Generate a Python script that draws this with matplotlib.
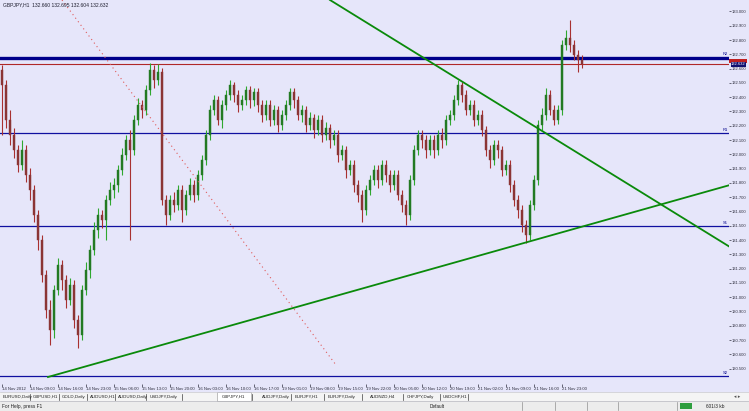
import matplotlib
matplotlib.use("Agg")
import matplotlib.pyplot as plt
import matplotlib.patches as mpatches
import numpy as np

plt.rcParams["font.family"] = ["Liberation Sans", "DejaVu Sans"]

# ---------------- data (GBPJPY, H1) ----------------
opens = [
    132.590, 132.485, 132.240, 132.135, 132.030, 131.925, 132.030, 131.855, 131.750, 131.575,
    131.400, 131.155, 130.910, 130.770, 131.050, 131.225, 131.120, 130.980, 131.085, 130.840,
    130.735, 131.050, 131.190, 131.330, 131.470, 131.575, 131.540, 131.680, 131.750, 131.785,
    131.890, 131.995, 132.100, 132.030, 132.240, 132.345, 132.310, 132.450, 132.590, 132.520,
    132.576, 131.680, 131.575, 131.680, 131.645, 131.750, 131.610, 131.715, 131.785, 131.715,
    131.855, 131.960, 132.135, 132.310, 132.380, 132.240, 132.345, 132.415, 132.485, 132.415,
    132.345, 132.380, 132.450, 132.380, 132.436, 132.345, 132.275, 132.345, 132.240, 132.310,
    132.205, 132.275, 132.345, 132.436, 132.380, 132.275, 132.310, 132.205, 132.254, 132.170,
    132.240, 132.135, 132.184, 132.100, 132.135, 131.995, 132.030, 131.890, 131.925, 131.785,
    131.715, 131.610, 131.750, 131.820, 131.890, 131.820, 131.925, 131.855, 131.785, 131.855,
    131.715, 131.645, 131.575, 131.820, 132.030, 132.135, 132.100, 132.030, 132.100, 132.030,
    132.135, 132.100, 132.240, 132.275, 132.380, 132.485, 132.415, 132.310, 132.345, 132.240,
    132.275, 132.170, 132.030, 131.960, 132.065, 132.030, 131.890, 131.925, 131.785, 131.680,
    131.610, 131.505, 131.435, 131.645, 131.820, 132.205, 132.275, 132.415, 132.310, 132.240,
    132.310, 132.765, 132.814, 132.765, 132.695, 132.660]
highs = [
    132.625, 132.520, 132.310, 132.184, 132.065, 132.100, 132.065, 131.904, 131.785, 131.610,
    131.435, 131.190, 130.980, 131.085, 131.274, 131.260, 131.155, 131.134, 131.120, 130.875,
    131.085, 131.246, 131.365, 131.526, 131.624, 131.610, 131.715, 131.806, 131.834, 131.925,
    132.044, 132.135, 132.170, 132.275, 132.394, 132.380, 132.485, 132.639, 132.625, 132.632,
    132.604, 131.715, 131.715, 131.736, 131.785, 131.785, 131.750, 131.834, 131.820, 131.890,
    131.995, 132.170, 132.345, 132.415, 132.408, 132.380, 132.450, 132.520, 132.506, 132.450,
    132.415, 132.478, 132.478, 132.464, 132.464, 132.380, 132.380, 132.380, 132.345, 132.338,
    132.310, 132.380, 132.464, 132.464, 132.408, 132.345, 132.338, 132.296, 132.282, 132.275,
    132.275, 132.226, 132.212, 132.170, 132.170, 132.065, 132.058, 131.960, 131.960, 131.820,
    131.750, 131.785, 131.855, 131.925, 131.925, 131.960, 131.960, 131.890, 131.890, 131.890,
    131.750, 131.680, 131.855, 132.065, 132.170, 132.170, 132.135, 132.135, 132.135, 132.170,
    132.184, 132.275, 132.310, 132.415, 132.520, 132.506, 132.450, 132.380, 132.380, 132.310,
    132.310, 132.198, 132.065, 132.100, 132.100, 132.058, 131.960, 131.960, 131.820, 131.715,
    131.645, 131.540, 131.680, 131.855, 132.240, 132.324, 132.464, 132.450, 132.345, 132.345,
    132.800, 132.870, 132.940, 132.800, 132.730, 132.695]
lows = [
    132.135, 132.184, 132.065, 131.974, 131.876, 131.890, 131.806, 131.680, 131.526, 131.330,
    131.106, 130.854, 130.665, 130.714, 131.015, 131.050, 130.924, 130.945, 130.784, 130.644,
    130.700, 131.015, 131.134, 131.295, 131.414, 131.484, 131.400, 131.645, 131.694, 131.736,
    131.855, 131.960, 131.400, 131.995, 132.205, 132.254, 132.275, 132.415, 132.464, 132.485,
    131.645, 131.505, 131.540, 131.596, 131.610, 131.526, 131.575, 131.680, 131.666, 131.680,
    131.820, 131.925, 132.100, 132.275, 132.205, 132.184, 132.310, 132.380, 132.366, 132.296,
    132.310, 132.345, 132.324, 132.338, 132.296, 132.226, 132.240, 132.198, 132.205, 132.156,
    132.170, 132.240, 132.310, 132.324, 132.240, 132.226, 132.156, 132.170, 132.114, 132.135,
    132.086, 132.100, 132.044, 132.065, 131.946, 131.960, 131.834, 131.855, 131.736, 131.666,
    131.526, 131.575, 131.715, 131.785, 131.764, 131.785, 131.806, 131.736, 131.750, 131.680,
    131.596, 131.505, 131.540, 131.785, 131.995, 132.044, 131.974, 131.995, 131.974, 131.995,
    132.044, 132.065, 132.205, 132.240, 132.345, 132.366, 132.275, 132.275, 132.198, 132.205,
    132.128, 131.988, 131.904, 131.925, 131.974, 131.848, 131.855, 131.736, 131.638, 131.554,
    131.456, 131.379, 131.400, 131.610, 131.785, 132.170, 132.240, 132.275, 132.205, 132.212,
    132.275, 132.730, 132.716, 132.660, 132.576, 132.604]
closes = [
    132.485, 132.240, 132.135, 132.030, 131.925, 132.030, 131.855, 131.750, 131.575, 131.400,
    131.155, 130.910, 130.770, 131.050, 131.225, 131.120, 130.980, 131.085, 130.840, 130.735,
    131.050, 131.190, 131.330, 131.470, 131.575, 131.540, 131.680, 131.750, 131.785, 131.890,
    131.995, 132.100, 132.030, 132.240, 132.345, 132.310, 132.450, 132.590, 132.520, 132.576,
    131.680, 131.575, 131.680, 131.645, 131.750, 131.610, 131.715, 131.785, 131.715, 131.855,
    131.960, 132.135, 132.310, 132.380, 132.240, 132.345, 132.415, 132.485, 132.415, 132.345,
    132.380, 132.450, 132.380, 132.436, 132.345, 132.275, 132.345, 132.240, 132.310, 132.205,
    132.275, 132.345, 132.436, 132.380, 132.275, 132.310, 132.205, 132.254, 132.170, 132.240,
    132.135, 132.184, 132.100, 132.135, 131.995, 132.030, 131.890, 131.925, 131.785, 131.715,
    131.610, 131.750, 131.820, 131.890, 131.820, 131.925, 131.855, 131.785, 131.855, 131.715,
    131.645, 131.575, 131.820, 132.030, 132.135, 132.100, 132.030, 132.100, 132.030, 132.135,
    132.100, 132.240, 132.275, 132.380, 132.485, 132.415, 132.310, 132.345, 132.240, 132.275,
    132.170, 132.030, 131.960, 132.065, 132.030, 131.890, 131.925, 131.785, 131.680, 131.610,
    131.505, 131.435, 131.645, 131.820, 132.205, 132.275, 132.415, 132.310, 132.240, 132.310,
    132.765, 132.814, 132.765, 132.695, 132.660, 132.632]
ask_price = 132.652

# horizontal levels drawn on the chart
thick_level = 132.674
levels = [132.149, 131.498, 130.448]
level_labels = ["R1", "S1", "S2"]
thick_label = "R2"

# trendlines (bar index, price)
trend_down_bars = [82, 182]
trend_down_prices = [133.080, 131.351]
trend_up_bars = [11.5, 182]
trend_up_prices = [130.441, 131.785]
dotted_bars = [15, 83.5]
dotted_prices = [133.080, 130.525]

price_tick_labels = ["133.000", "132.900", "132.800", "132.700", "132.600", "132.500",
                     "132.400", "132.300", "132.200", "132.100", "132.000", "131.900",
                     "131.800", "131.700", "131.600", "131.500", "131.400", "131.300",
                     "131.200", "131.100", "131.000", "130.900", "130.800", "130.700",
                     "130.600", "130.500"]
time_labels = ["14 Nov 2012", "14 Nov 09:00", "14 Nov 16:00", "14 Nov 23:00", "15 Nov 06:00",
               "15 Nov 13:00", "15 Nov 20:00", "16 Nov 03:00", "16 Nov 10:00", "16 Nov 17:00",
               "19 Nov 01:00", "19 Nov 08:00", "19 Nov 15:00", "19 Nov 22:00", "20 Nov 05:00",
               "20 Nov 12:00", "20 Nov 19:00", "21 Nov 02:00", "21 Nov 09:00", "21 Nov 16:00",
               "21 Nov 23:00"]
tabs = ["EURUSD,Daily", "GBPUSD,H1", "GOLD,Daily", "AUDUSD,H1", "AUDUSD,Daily",
        "USDJPY,Daily", "GBPJPY,H1", "AUDJPY,Daily", "EURJPY,H1", "EURJPY,Daily",
        "AUDNZD,H4", "CHFJPY,Daily", "USDCHF,H1"]
active_tab = "GBPJPY,H1"

# ---------------- figure ----------------
W, H = 749, 411
BG = "#E6E6FA"
AXR = 729
fig = plt.figure(figsize=(W / 100, H / 100), dpi=100)
fig.patch.set_facecolor(BG)
ax = fig.add_axes([0, 27 / H, AXR / W, 384 / H])
ax.set_facecolor(BG)
for s in ax.spines.values():
    s.set_visible(False)

o = np.array(opens); hi = np.array(highs); lo = np.array(lows); c = np.array(closes)
x = np.arange(len(c))
up = c >= o
dn = ~up

bull_body, bull_wick = "#237A23", "#2FA82F"
bear_body, bear_wick = "#8B3535", "#A83030"

ax.vlines(x[up], lo[up], hi[up], color=bull_wick, lw=0.8, zorder=3)
ax.vlines(x[dn], lo[dn], hi[dn], color=bear_wick, lw=0.8, zorder=3)
ax.bar(x[up], c[up] - o[up], bottom=o[up], width=0.72, color=bull_body,
       edgecolor=bull_body, lw=0.3, zorder=4)
ax.bar(x[dn], o[dn] - c[dn], bottom=c[dn], width=0.72, color=bear_body,
       edgecolor=bear_body, lw=0.3, zorder=4)

# x limits chosen so that bar i sits at pixel 2 + 4 i
XMAX = (AXR - 2) / 4
ax.set_xlim(-0.5, XMAX)
ax.set_ylim(130.392, 133.08)

# horizontal lines
ax.axhline(thick_level, color="#00008B", lw=2.4, zorder=2)
ax.text(XMAX - 0.3, thick_level + 0.012, thick_label, ha="right", va="bottom",
        fontsize=3, color="#00008B")
for lv, lb in zip(levels, level_labels):
    ax.axhline(lv, color="#1010A0", lw=0.9, zorder=2)
    ax.text(XMAX - 0.3, lv + 0.01, lb, ha="right", va="bottom", fontsize=3, color="#00008B")
ax.axhline(closes[-1], color="#B02828", lw=0.8, zorder=2)

# trendlines
ax.plot(trend_down_bars, trend_down_prices, color="#0A8A0A", lw=1.3, zorder=5)
ax.plot(trend_up_bars, trend_up_prices, color="#0A8A0A", lw=1.3, zorder=5)
ax.plot(dotted_bars, dotted_prices, color="#E05A5A", lw=0.8, ls=(0, (1, 3)), zorder=5)

# price scale
ax.yaxis.tick_right()
ax.set_yticks([float(t) for t in price_tick_labels])
ax.set_yticklabels(price_tick_labels)
ax.tick_params(axis="y", direction="out", length=1.5, width=0.5, pad=0.6,
               labelsize=3.0, colors="#303040")

# time scale
ax.set_xticks(np.arange(len(time_labels)) * 7)
ax.set_xticklabels(time_labels)
ax.tick_params(axis="x", direction="out", length=2, width=0.5, pad=0.5,
               labelsize=3.1, colors="#303040")
for lab in ax.get_xticklabels():
    lab.set_ha("left")

# current price marker: red ask strip behind the navy bid label
tr = ax.get_yaxis_transform()
ax.add_patch(mpatches.Rectangle((1.0, ask_price - 0.012), 18 / AXR, 0.024, transform=tr,
                                fc="#C02020", ec="none", clip_on=False, zorder=9))
ax.text(1.003, closes[-1], f"{closes[-1]:.3f}", transform=tr, fontsize=3.0, color="white",
        va="center", ha="left", bbox=dict(boxstyle="square,pad=0.12", fc="#101070", ec="none"),
        clip_on=False, zorder=11)

# header text
fig.text(3 / W, 1 - 5 / H,
         f"GBPJPY,H1  {opens[-1]:.3f} {highs[-1]:.3f} {lows[-1]:.3f} {closes[-1]:.3f}",
         fontsize=3.6, color="#202030", va="center", ha="left")

# tab row
def fy(py):
    return 1 - py / H

fig.patches.append(mpatches.Rectangle((0, fy(401)), 1, 9 / H, transform=fig.transFigure,
                                      fc="#F4F4F4", ec="none", zorder=0))
fig.add_artist(plt.Line2D([0, 1], [fy(392), fy(392)], transform=fig.transFigure,
                          color="#C8C8D0", lw=0.5))
tab_x = [3, 33, 62, 90, 118, 150, 222, 262, 295, 328, 370, 407, 443]
sep_x = [30, 59, 87, 115, 146, 182, 252, 291, 324, 362, 403, 440, 468]
for name, tx, sx in zip(tabs, tab_x, sep_x):
    if name == active_tab:
        fig.patches.append(mpatches.Rectangle(((tx - 5) / W, fy(400.5)), 34 / W, 8.5 / H,
                                              transform=fig.transFigure, fc="white",
                                              ec="#909090", lw=0.4, zorder=1))
    fig.text(tx / W, fy(396.5), name, fontsize=3.2, color="#202020", va="center", ha="left",
             zorder=2)
    fig.add_artist(plt.Line2D([sx / W, sx / W], [fy(399.5), fy(393.5)],
                              transform=fig.transFigure, color="#404040", lw=0.5))
fig.text(734 / W, fy(396.5), "\u25c2 \u25b8", fontsize=3.4, color="#505050", va="center",
         family="DejaVu Sans")

# status bar
fig.patches.append(mpatches.Rectangle((0, 0), 1, 10 / H, transform=fig.transFigure,
                                      fc="#ECECEC", ec="none", zorder=0))
fig.add_artist(plt.Line2D([0, 1], [fy(401), fy(401)], transform=fig.transFigure,
                          color="#B8B8C0", lw=0.5))
fig.text(2 / W, fy(406), "For Help, press F1", fontsize=3.4, color="#202020", va="center")
fig.text(430 / W, fy(406), "Default", fontsize=3.4, color="#202020", va="center")
for sx in [522, 555, 587, 618, 677]:
    fig.add_artist(plt.Line2D([sx / W, sx / W], [fy(410), fy(402)], transform=fig.transFigure,
                              color="#909090", lw=0.5))
fig.patches.append(mpatches.Rectangle((680 / W, fy(409)), 12 / W, 6 / H,
                                      transform=fig.transFigure, fc="#2E9E3E", ec="none",
                                      zorder=1))
fig.text(706 / W, fy(406), "601/3 kb", fontsize=3.4, color="#202020", va="center")

fig.savefig("out.png", dpi=100, facecolor=fig.get_facecolor())
